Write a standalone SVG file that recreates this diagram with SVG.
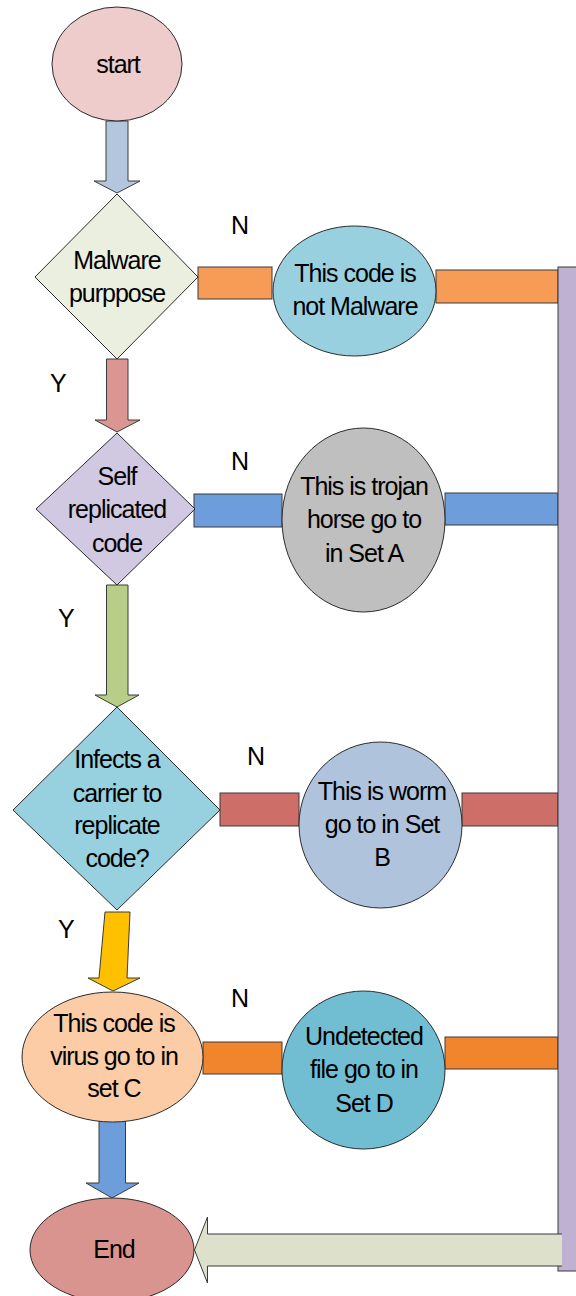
<svg xmlns="http://www.w3.org/2000/svg" width="576" height="1296" viewBox="0 0 576 1296">
  <style>
    .shape { stroke: #2b2b2b; stroke-width: 1; }
    .bar { stroke: #3a3a3a; stroke-width: 1; }
    .t { font-family: "Liberation Sans", Arial, sans-serif; font-size: 25px; letter-spacing: -1px; fill: #000; text-anchor: middle; }
    .lbl { font-family: "Liberation Sans", Arial, sans-serif; font-size: 25px; fill: #000; }
  </style>
  <rect width="576" height="1296" fill="#ffffff"/>

  <!-- connectors: block arrows, side bars, return rail -->
  <g id="connectors">
    <path class="bar" fill="#b3c6dd" d="M106,121 L128,121 L128,181 L140,181 L117,193 L94,181 L106,181 Z"/>
    <path class="bar" fill="#db9592" d="M106.5,359 L128,359 L128,420 L140,420 L117,432 L95,420 L106.5,420 Z"/>
    <path class="bar" fill="#b8cd88" d="M106.5,585 L128,585 L128,695 L139,695 L117,707 L95,695 L106.5,695 Z"/>
    <path class="bar" fill="#ffc000" d="M105,912 L130,912 L127,978 L140,978 L113,991 L88,978 L99,978 Z"/>
    <path class="bar" fill="#6d9edb" d="M99,1120 L125.5,1120 L125.5,1183 L139,1183 L112,1198 L86,1183 L99,1183 Z"/>

    <rect class="bar" fill="#f69c56" x="198" y="267" width="74" height="32"/>
    <rect class="bar" fill="#f69c56" x="436" y="270" width="122" height="33"/>
    <rect class="bar" fill="#6d9edb" x="194" y="494" width="88" height="33"/>
    <rect class="bar" fill="#6d9edb" x="445" y="493" width="113" height="32"/>
    <rect class="bar" fill="#cd6e69" x="220" y="793" width="79" height="33"/>
    <rect class="bar" fill="#cd6e69" x="462" y="793" width="96" height="33"/>
    <rect class="bar" fill="#f0852d" x="203" y="1042" width="79" height="32"/>
    <rect class="bar" fill="#f0852d" x="445" y="1037" width="113" height="32"/>

    <rect class="bar" fill="#bfb1d1" x="558" y="267" width="22" height="1004"/>
    <path fill="#dde1cc" d="M562,1234 L207.5,1234 L207.5,1217 L194.5,1250 L207.5,1283 L207.5,1266 L562,1266 Z"/>
    <path fill="none" stroke="#3a3a3a" stroke-width="1" d="M562,1234 L207.5,1234 L207.5,1217 L194.5,1250 L207.5,1283 L207.5,1266 L562,1266"/>

    <text class="lbl" x="231" y="234">N</text>
    <text class="lbl" x="50" y="392">Y</text>
    <text class="lbl" x="231" y="470">N</text>
    <text class="lbl" x="58" y="627">Y</text>
    <text class="lbl" x="247" y="765">N</text>
    <text class="lbl" x="58" y="938">Y</text>
    <text class="lbl" x="231" y="1007">N</text>
  </g>

  <g id="start">
    <ellipse class="shape" fill="#edcccb" cx="117" cy="64" rx="65" ry="57"/>
    <text class="t" x="118" y="73">start</text>
  </g>

  <g id="malware-purpose">
    <polygon class="shape" fill="#ebefdf" points="117,194 198,277 117,359 35,277"/>
    <text class="t" x="117" y="269">Malware</text>
    <text class="t" x="117" y="302">purppose</text>
  </g>

  <g id="not-malware">
    <ellipse class="shape" fill="#99d0df" cx="354.5" cy="291" rx="81.5" ry="65"/>
    <text class="t" x="355" y="282">This code is</text>
    <text class="t" x="355" y="315">not Malware</text>
  </g>

  <g id="self-replicated">
    <polygon class="shape" fill="#d1c8e1" points="117,433 195,509 117,585 36,509"/>
    <text class="t" x="117" y="485">Self</text>
    <text class="t" x="117" y="518">replicated</text>
    <text class="t" x="117" y="552">code</text>
  </g>

  <g id="trojan">
    <ellipse class="shape" fill="#bfbfbf" cx="363.5" cy="520" rx="81.5" ry="92"/>
    <text class="t" x="364" y="495">This is trojan</text>
    <text class="t" x="364" y="528">horse go to</text>
    <text class="t" x="364" y="562">in Set A</text>
  </g>

  <g id="infects-carrier">
    <polygon class="shape" fill="#97d0de" points="117,707 220,810 117,910 13,810"/>
    <text class="t" x="117" y="768">Infects a</text>
    <text class="t" x="117" y="802">carrier to</text>
    <text class="t" x="117" y="834">replicate</text>
    <text class="t" x="117" y="867">code?</text>
  </g>

  <g id="worm">
    <ellipse class="shape" fill="#b0c3dd" cx="380.5" cy="825" rx="81.5" ry="83"/>
    <text class="t" x="382" y="800">This is worm</text>
    <text class="t" x="382" y="833">go to in Set</text>
    <text class="t" x="382" y="866">B</text>
  </g>

  <g id="virus">
    <ellipse class="shape" fill="#fbcca6" cx="112.5" cy="1057" rx="90.5" ry="65"/>
    <text class="t" x="114" y="1032">This code is</text>
    <text class="t" x="114" y="1065">virus go to in</text>
    <text class="t" x="114" y="1097">set C</text>
  </g>

  <g id="undetected">
    <ellipse class="shape" fill="#71bed3" cx="363.5" cy="1070" rx="81.5" ry="79"/>
    <text class="t" x="364" y="1045">Undetected</text>
    <text class="t" x="364" y="1078">file go to in</text>
    <text class="t" x="364" y="1112">Set D</text>
  </g>

  <g id="end">
    <ellipse class="shape" fill="#d99490" cx="112" cy="1250" rx="82" ry="52"/>
    <text class="t" x="114" y="1258">End</text>
  </g>
</svg>
